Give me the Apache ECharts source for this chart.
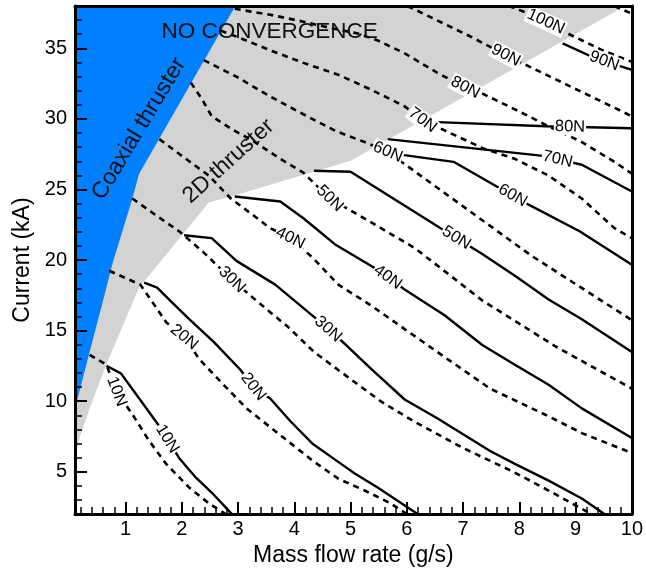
<!DOCTYPE html>
<html>
<head>
<meta charset="utf-8">
<script src="https://cdn.jsdelivr.net/npm/echarts@6/dist/echarts.min.js"></script>
<style>
  html, body { margin: 0; padding: 0; background: #fff; }
  #chart { width: 646px; height: 572px; }
</style>
</head>
<body>
<div id="chart"></div>
<script>
var FONT = '"Liberation Sans", Arial, sans-serif'

// axis ticks
var xMajor = [1, 2, 3, 4, 5, 6, 7, 8, 9, 10]
var yMajor = [5, 10, 15, 20, 25, 30, 35]
var xMinor = []
for (var i = 1; i < 50; i++) { if (i % 5) xMinor.push(Math.round(i * 2) / 10) }
var yMinor = []
for (var j = 3; j < 38; j++) { if (j % 5) yMinor.push(j) }

// regions (mass flow g/s, current kA)
var coaxialRegion = [[0.1, 38], [2.95, 38], [1.24, 26.12], [1.12, 24.36], [0.77, 19.8], [0.59, 17.0], [0.36, 13.5], [0.1, 9.49]]
var twoDRegion = [[0.1, 5.98], [0.1, 38], [9.88, 38], [5.0, 27.03], [2.87, 24.5], [2.48, 24.08], [1.24, 18.05], [0.654, 12.58], [0.36, 9.49], [0.18, 7.39]]

// solid thrust contours
var s10 = [[0.66, 12.51], [0.92, 11.95], [1.19, 10.47], [1.60, 8.23], [1.95, 5.98], [2.25, 4.58], [2.53, 3.53], [2.89, 2.0]]
var s20 = [[1.33, 18.40], [1.56, 18.05], [1.77, 17.21], [2.13, 15.81], [2.57, 14.19], [3.04, 12.23], [3.27, 11.03], [3.57, 10.19], [3.93, 8.58], [4.33, 6.96], [4.78, 5.70], [5.08, 4.86], [5.48, 3.88], [6.19, 2.0]]
var s30 = [[2.04, 21.76], [2.53, 21.55], [2.97, 19.94], [3.66, 18.26], [4.46, 15.60], [4.92, 13.98], [5.36, 12.30], [5.96, 10.12], [6.54, 8.79], [7.48, 6.47], [7.92, 5.56], [8.52, 4.37], [9.11, 3.11], [9.51, 2.0]]
var s40 = [[2.94, 24.50], [3.75, 24.15], [4.16, 22.96], [4.74, 21.06], [5.48, 19.31], [5.96, 17.91], [6.67, 16.09], [7.34, 13.98], [7.92, 12.58], [8.52, 11.17], [9.11, 9.49], [10, 7.39]]
var s50 = [[4.35, 26.33], [5.0, 26.26], [6.60, 22.26], [7.34, 20.43], [7.92, 18.89], [8.52, 17.21], [9.11, 15.81], [10, 13.49]]
var s60 = [[5.92, 27.45], [6.83, 26.96], [7.66, 25.07], [8.19, 23.87], [9.07, 22.04], [10, 19.66]]
var s70 = [[5.66, 28.57], [8.42, 27.38], [9.11, 26.75], [10, 24.86]]
var s80 = [[6.54, 29.77], [8.47, 29.48], [10, 29.34]]
var s90 = [[8.77, 35.35], [9.23, 34.51], [9.51, 34.09], [10, 33.48]]

// dashed thrust contours
var d10 = [[0.36, 13.28], [0.66, 12.58], [0.84, 10.68], [1.12, 9.07], [1.42, 7.18], [1.72, 5.56], [2.13, 3.88], [2.48, 2.76], [2.78, 2.0]]
var d20 = [[0.71, 19.24], [1.26, 18.26], [1.42, 17.35], [1.72, 15.60], [2.04, 14.54], [2.32, 12.93], [2.74, 11.17], [3.15, 9.49], [3.57, 8.16], [3.93, 7.03], [4.33, 5.77], [4.78, 4.51], [5.25, 3.67], [5.71, 2.76], [6.0, 2.0]]
var d30 = [[1.12, 24.36], [1.54, 23.17], [1.95, 22.04], [2.36, 20.64], [2.89, 18.61], [3.36, 17.00], [3.89, 15.25], [4.35, 13.49], [4.94, 11.74], [5.54, 9.98], [6.12, 8.58], [7.00, 6.68], [7.89, 5.00], [8.52, 3.67], [9.28, 2.0]]
var d40 = [[1.60, 28.57], [2.00, 27.38], [2.48, 25.98], [2.87, 24.36], [3.27, 23.17], [3.57, 22.26], [3.93, 21.55], [4.33, 20.15], [4.78, 18.26], [5.36, 16.79], [5.96, 15.11], [6.54, 13.49], [7.48, 10.89], [8.52, 8.93], [9.11, 7.74], [10, 6.33]]
var d50 = [[2.16, 32.57], [2.36, 31.38], [2.53, 30.19], [2.89, 29.27], [3.27, 28.43], [3.75, 27.17], [4.16, 26.19], [4.63, 24.36], [5.36, 22.68], [6.14, 20.85], [7.34, 17.14], [8.66, 13.84], [10, 10.89]]
var d60 = [[2.39, 34.16], [2.97, 32.99], [3.57, 31.59], [4.16, 30.33], [4.74, 29.13], [5.25, 28.36], [5.66, 27.66], [8.22, 20.29], [10, 15.74]]
var d70 = [[2.69, 36.26], [3.01, 35.77], [3.57, 34.86], [4.16, 33.97], [4.78, 33.13], [5.36, 32.08], [5.96, 30.89], [6.28, 29.91], [7.34, 27.94], [7.92, 27.17], [8.52, 25.98], [9.11, 24.36], [9.69, 22.26], [10, 21.55]]
var d80 = [[2.94, 37.8], [3.57, 37.38], [4.16, 36.89], [4.69, 36.40], [5.13, 36.05], [5.48, 35.56], [5.96, 34.65], [6.54, 33.27], [7.04, 32.22], [7.34, 31.80], [7.92, 30.68], [8.52, 29.48], [9.11, 28.36], [9.69, 26.96], [10, 26.12]]
var d90 = [[6.01, 38], [7.13, 35.84], [7.76, 34.51], [8.84, 32.43], [10, 30.19]]
var d100 = [[7.81, 38], [8.13, 37.52], [8.47, 36.89], [8.93, 35.91], [9.48, 34.86], [10, 34.04]]
var d110 = [[9.69, 38], [10, 37.45]]

var solidLines = [s10, s20, s30, s40, s50, s60, s70, s80, s90]
var solidNames = ['10N', '20N', '30N', '40N', '50N', '60N', '70N', '80N', '90N']
var solidLabelX = [1.74, 3.27, 4.60, 5.66, 6.88, 7.88, 8.68, 8.90, 9.51]

var dashedLines = [d10, d20, d30, d40, d50, d60, d70, d80, d90, d100, d110]
var dashedNames = ['10N', '20N', '30N', '40N', '50N', '60N', '70N', '80N', '90N', '100N', '']
var dashedLabelX = [0.84, 2.04, 2.89, 3.93, 4.63, 5.66, 6.28, 7.04, 7.76, 8.47, null]

// region captions
var captions = ['NO CONVERGENCE', 'Coaxial thruster', '2D thruster']
var captionPos = [[3.56, 36.2], [1.24, 29.3], [2.83, 27.0]]
var captionAngle = [0, 59, 42]

function segIndex(line, x) {
  for (var k = 0; k < line.length - 1; k++) {
    if (x >= line[k][0] && x <= line[k + 1][0]) return k
  }
  return line.length - 2
}
function yOn(line, x) {
  var k = segIndex(line, x)
  var a = line[k], b = line[k + 1]
  return a[1] + (b[1] - a[1]) * (x - a[0]) / (b[0] - a[0])
}

var labelData = [], labelText = [], labelLine = []
solidLines.forEach(function (ln, i) {
  labelData.push([solidLabelX[i], yOn(ln, solidLabelX[i])]); labelText.push(solidNames[i]); labelLine.push(ln)
})
dashedLines.forEach(function (ln, i) {
  if (dashedLabelX[i] == null) return
  labelData.push([dashedLabelX[i], yOn(ln, dashedLabelX[i])]); labelText.push(dashedNames[i]); labelLine.push(ln)
})

function regionSeries(pts, color) {
  return {
    type: 'custom', data: pts, silent: true, z: 1, clip: true,
    renderItem: function (params, api) {
      if (params.dataIndex !== 0) return
      return {
        type: 'polygon',
        shape: { points: pts.map(function (p) { return api.coord(p) }) },
        style: { fill: color }
      }
    }
  }
}

function lineSeries(pts, dashed) {
  return {
    type: 'line', data: pts, symbol: 'none', silent: true, z: 3, clip: true,
    lineStyle: { color: '#000', width: dashed ? 2.6 : 2.4, type: dashed ? [6, 5] : 'solid' }
  }
}

var series = [
  regionSeries(twoDRegion, '#d3d3d3'),
  regionSeries(coaxialRegion, '#0080ff')
]
solidLines.forEach(function (ln) { series.push(lineSeries(ln, false)) })
dashedLines.forEach(function (ln) { series.push(lineSeries(ln, true)) })

series.push({
  type: 'custom', data: labelData, silent: true, z: 5,
  renderItem: function (params, api) {
    var i = params.dataIndex
    var ln = labelLine[i]
    var k = segIndex(ln, api.value(0))
    var a = api.coord(ln[k]), b = api.coord(ln[k + 1])
    var c = api.coord([api.value(0), api.value(1)])
    return {
      type: 'text', x: c[0], y: c[1], rotation: -Math.atan2(b[1] - a[1], b[0] - a[0]),
      style: {
        text: labelText[i], fill: '#000', fontSize: 16.5, fontFamily: FONT,
        align: 'center', verticalAlign: 'middle', backgroundColor: '#fff', padding: [0, 1]
      }
    }
  }
})

series.push({
  type: 'custom', data: captionPos, silent: true, z: 6,
  renderItem: function (params, api) {
    var i = params.dataIndex
    var c = api.coord([api.value(0), api.value(1)])
    return {
      type: 'text', x: c[0], y: c[1], rotation: captionAngle[i] * Math.PI / 180,
      style: {
        text: captions[i], fill: '#111', fontSize: i === 0 ? 22.5 : 23, fontFamily: FONT,
        align: 'center', verticalAlign: 'middle'
      }
    }
  }
})

function frameAxis(pos) {
  return {
    type: 'value', position: pos, z: 10,
    axisLine: { show: true, onZero: false, lineStyle: { color: '#000', width: 3 } },
    axisTick: { show: false }, axisLabel: { show: false }, splitLine: { show: false }
  }
}

var option = {
  animation: false,
  backgroundColor: '#fff',
  grid: { left: 75, top: 6, right: 10, bottom: 53 },
  xAxis: [
    {
      type: 'value', min: 0.1, max: 10, position: 'bottom', z: 10,
      name: 'Mass flow rate (g/s)', nameLocation: 'middle', nameGap: 21,
      nameTextStyle: { fontSize: 23, color: '#000', fontFamily: FONT, verticalAlign: 'top' },
      axisLine: { show: true, onZero: false, lineStyle: { color: '#000', width: 3 } },
      axisTick: { show: true, inside: true, length: 12, customValues: xMajor, lineStyle: { color: '#000', width: 2 } },
      axisLabel: { customValues: xMajor, color: '#000', fontSize: 20, fontFamily: FONT, margin: 5 },
      splitLine: { show: false }
    },
    {
      type: 'value', min: 0.1, max: 10, position: 'bottom', z: 10,
      axisLine: { show: false },
      axisTick: { show: true, inside: true, length: 7, customValues: xMinor, lineStyle: { color: '#000', width: 1.5 } },
      axisLabel: { show: false }, splitLine: { show: false }
    },
    Object.assign(frameAxis('top'), { min: 0.1, max: 10 })
  ],
  yAxis: [
    {
      type: 'value', min: 2, max: 38, position: 'left', z: 10,
      name: 'Current (kA)', nameLocation: 'middle', nameGap: 40,
      nameTextStyle: { fontSize: 23, color: '#000', fontFamily: FONT },
      axisLine: { show: true, onZero: false, lineStyle: { color: '#000', width: 3 } },
      axisTick: { show: true, inside: true, length: 12, customValues: yMajor, lineStyle: { color: '#000', width: 2 } },
      axisLabel: { customValues: yMajor, color: '#000', fontSize: 20, fontFamily: FONT, margin: 8 },
      splitLine: { show: false }
    },
    {
      type: 'value', min: 2, max: 38, position: 'left', z: 10,
      axisLine: { show: false },
      axisTick: { show: true, inside: true, length: 7, customValues: yMinor, lineStyle: { color: '#000', width: 1.5 } },
      axisLabel: { show: false }, splitLine: { show: false }
    },
    Object.assign(frameAxis('right'), { min: 2, max: 38 })
  ],
  series: series
}

var myChart = echarts.init(document.getElementById('chart'))
myChart.setOption(option)
</script>
</body>
</html>
